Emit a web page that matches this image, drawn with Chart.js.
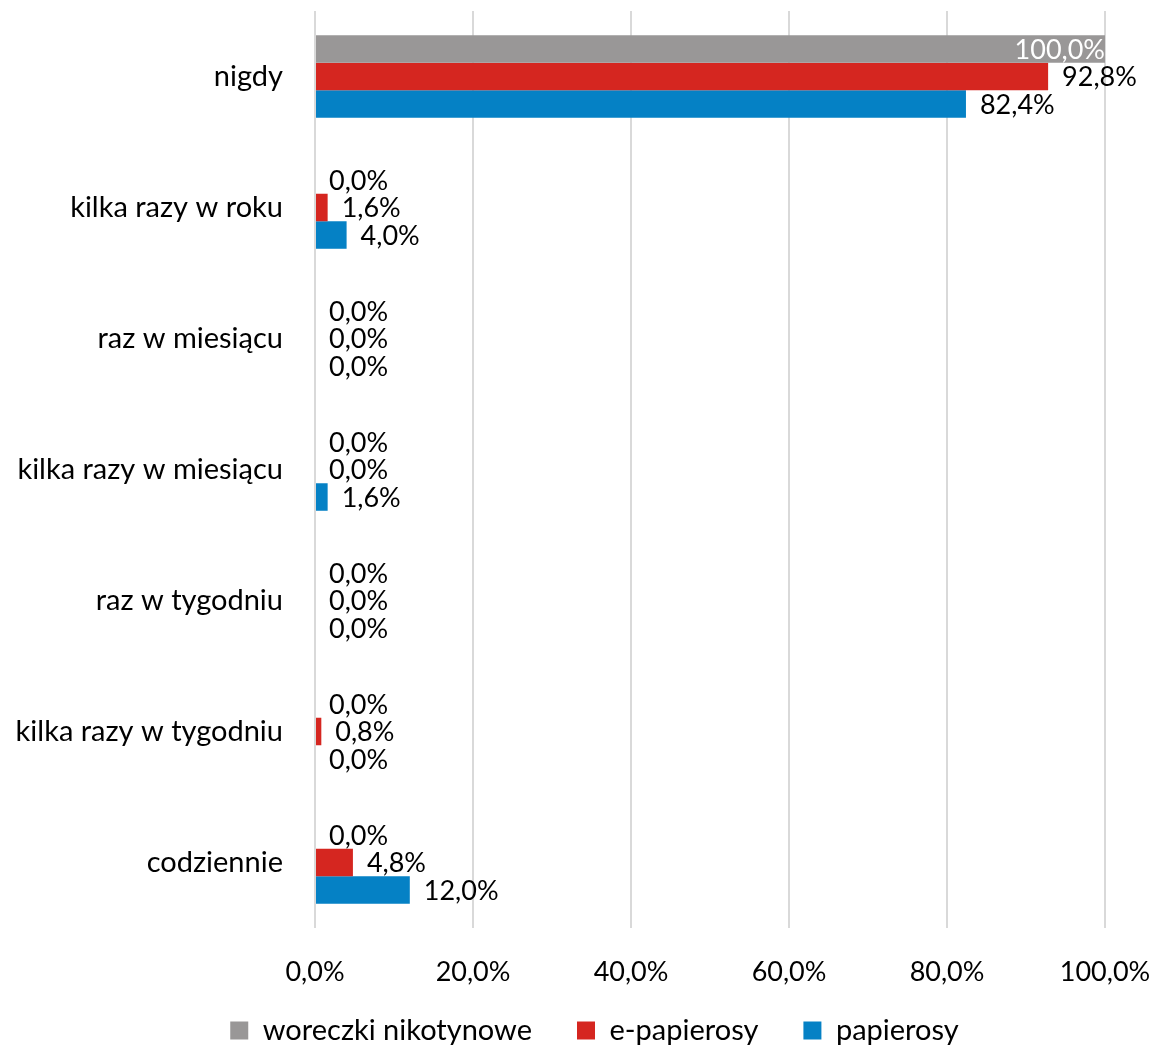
<!DOCTYPE html>
<html>
<head>
<meta charset="utf-8">
<script src="https://cdn.jsdelivr.net/npm/chart.js@4"></script>
<style>
  html, body { margin: 0; padding: 0; background: #fff; }
  #wrap { width: 1156px; height: 1045px; }
</style>
</head>
<body>
<div id="wrap"><canvas id="chart"></canvas></div>
<script>
const categories = ['nigdy', 'kilka razy w roku', 'raz w miesiącu', 'kilka razy w miesiącu', 'raz w tygodniu', 'kilka razy w tygodniu', 'codziennie'];
const woreczki = [100.0, 0.0, 0.0, 0.0, 0.0, 0.0, 0.0];
const ePapierosy = [92.8, 1.6, 0.0, 0.0, 0.0, 0.8, 4.8];
const papierosy = [82.4, 4.0, 0.0, 1.6, 0.0, 0.0, 12.0];
const xTicks = [0, 20, 40, 60, 80, 100];

const FONT = 'Lato, "Open Sans", sans-serif';

function pct(v) {
    return v.toFixed(1).replace('.', ',') + '%';
}

// labels at the end of each bar, like Excel's "outside end"
const barLabels = {
    id: 'barLabels',
    afterLayout(chart) {
        // let the x tick labels overflow into the legend box (no clipping)
        chart.scales.x.bottom = chart.height;
        // legend is centred a bit right of the canvas middle
        chart.legend.left += 42;
        chart.legend.right += 42;
    },
    afterDatasetsDraw(chart) {
        const ctx = chart.ctx;
        ctx.save();
        ctx.font = '27px ' + FONT;
        ctx.textBaseline = 'middle';
        chart.data.datasets.forEach((ds, i) => {
            const meta = chart.getDatasetMeta(i);
            meta.data.forEach((el, j) => {
                const text = pct(ds.data[j]);
                const w = ctx.measureText(text).width;
                if (el.x + 14 + w > chart.width) {
                    ctx.fillStyle = '#ffffff';
                    ctx.textAlign = 'right';
                    ctx.fillText(text, el.x, el.y + 1);
                } else {
                    ctx.fillStyle = '#000000';
                    ctx.textAlign = 'left';
                    ctx.fillText(text, el.x + 14, el.y + 1);
                }
            });
        });
        ctx.restore();
    }
};

new Chart(document.getElementById('chart'), {
    type: 'bar',
    data: {
        labels: categories,
        datasets: [
            { label: 'woreczki nikotynowe', data: woreczki, backgroundColor: '#999797' },
            { label: 'e-papierosy', data: ePapierosy, backgroundColor: '#d52620' },
            { label: 'papierosy', data: papierosy, backgroundColor: '#0581c5' }
        ]
    },
    options: {
        indexAxis: 'y',
        responsive: true,
        maintainAspectRatio: false,
        animation: false,
        layout: { padding: { top: 11, right: 51, left: 0, bottom: 0 } },
        datasets: {
            bar: { categoryPercentage: 0.63, barPercentage: 1.0 }
        },
        plugins: {
            legend: {
                position: 'bottom',
                maxHeight: 74,
                labels: {
                    boxWidth: 18,
                    boxHeight: 18,
                    color: '#000',
                    font: { family: FONT, size: 29 },
                    padding: 45
                }
            },
            tooltip: { enabled: false }
        },
        scales: {
            x: {
                min: 0,
                max: 100,
                afterBuildTicks(scale) {
                    scale.ticks = xTicks.map(v => ({ value: v }));
                },
                afterFit(scale) {
                    scale.height = 43;
                    scale.paddingLeft = 0;
                    scale.paddingRight = 0;
                },
                grid: { color: '#d9d9d9', lineWidth: 2, drawTicks: false },
                border: { display: false },
                ticks: {
                    padding: 28,
                    color: '#000',
                    font: { family: FONT, size: 27 },
                    callback: v => pct(v)
                }
            },
            y: {
                afterFit(scale) {
                    scale.width = 315;
                    scale.paddingTop = 0;
                    scale.paddingBottom = 0;
                },
                grid: { display: false },
                border: { display: false },
                ticks: {
                    padding: 24,
                    color: '#000',
                    font: { family: FONT, size: 29 }
                }
            }
        }
    },
    plugins: [barLabels]
});
</script>
</body>
</html>
